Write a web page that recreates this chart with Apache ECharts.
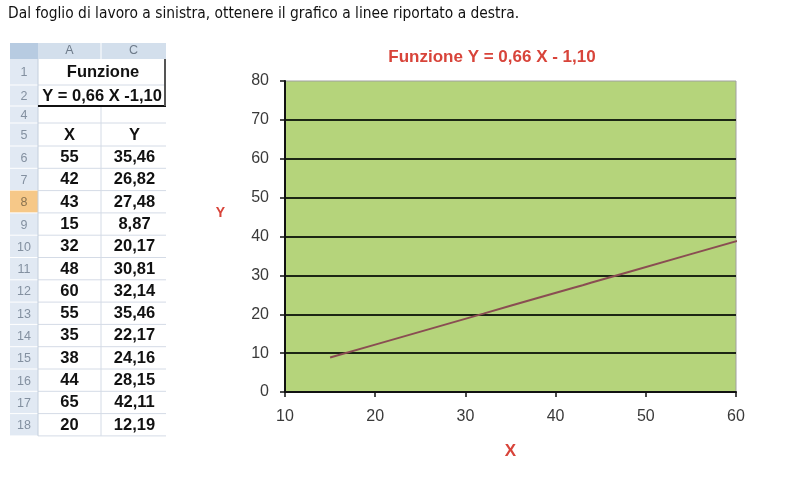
<!DOCTYPE html>
<html>
<head>
<meta charset="utf-8">
<script src="https://cdn.jsdelivr.net/npm/echarts@6/dist/echarts.min.js"></script>
<style>
html,body{margin:0;padding:0;background:#fff;}
#chart{width:786px;height:477px;}
</style>
</head>
<body>
<div id="chart"></div>
<script>
// ---- Data ----
const pageTitle = 'Dal foglio di lavoro a sinistra, ottenere il grafico a linee riportato a destra.';
const chartTitle = 'Funzione Y = 0,66 X - 1,10';
const sheetTitle1 = 'Funzione';
const sheetTitle2 = 'Y = 0,66 X -1,10';
const sheetRowNums = ['6','7','8','9','10','11','12','13','14','15','16','17','18'];
const sheetX = ['55','42','43','15','32','48','60','55','35','38','44','65','20'];
const sheetY = ['35,46','26,82','27,48','8,87','20,17','30,81','32,14','35,46','22,17','24,16','28,15','42,11','12,19'];
// points of the plotted line
const lineX = [15, 20, 32, 35, 38, 42, 43, 44, 48, 55, 65];
const lineY = [8.87, 12.19, 20.17, 22.17, 24.16, 26.82, 27.48, 28.15, 30.81, 35.46, 42.11];
const xTicks = [10, 20, 30, 40, 50, 60];
const yTicks = [0, 10, 20, 30, 40, 50, 60, 70, 80];

// ---- Sheet graphic ----
const g = [];
const L = 10, RH = 38, CA = 101, R = 166;
const fontB = 'bold 16.5px "Liberation Sans", Arial, sans-serif';
const fontRow = '12.5px "Liberation Sans", Arial, sans-serif';
function rect(x, y, w, h, fill, stroke, lw) {
  g.push({type:'rect', shape:{x, y, width:w, height:h}, style:{fill, stroke: stroke || null, lineWidth: lw || 0}, silent:true});
}
function line(x1, y1, x2, y2, stroke, lw) {
  g.push({type:'line', shape:{x1, y1, x2, y2}, style:{stroke, lineWidth: lw}, silent:true});
}
function text(x, y, t, font, fill, align) {
  g.push({type:'text', x, y, style:{text:t, font, fill, align: align || 'center', verticalAlign:'middle'}, silent:true});
}
// page title
text(8, 14, pageTitle, '15.4px "DejaVu Sans Condensed", "DejaVu Sans", sans-serif', '#111', 'left');

// rows: [label, top, height]
const rows = [['1',59,26],['2',85,21],['4',106,17],['5',123,23]];
sheetRowNums.forEach((n, i) => rows.push([n, 146 + i * 22.3, 22.3]));
// header
rect(L, 43, R - L, 16, '#d3dfec');
rect(L, 43, RH - L, 16, '#b7cbe1');
text((RH + CA) / 2, 51, 'A', '12.5px "Liberation Sans", Arial, sans-serif', '#6e7b8a');
text((CA + R) / 2, 51, 'C', '12.5px "Liberation Sans", Arial, sans-serif', '#6e7b8a');
line(CA, 43, CA, 59, '#ffffff', 1);
// body
const bottom = 146 + 13 * 22.3;
rect(RH, 59, R - RH, bottom - 59, '#ffffff');
rect(L, 59, RH - L, bottom - 59, '#e1e9f3');
rows.forEach((r, i) => {
  const [lab, top, h] = r;
  if (lab === '8') rect(L, top, RH - L, h, '#f6c888');
  text((L + RH) / 2, top + h / 2 + 1, lab, fontRow, lab === '8' ? '#8a7350' : '#8390a0');
  line(L, top + h, RH, top + h, '#ffffff', 1);
  line(RH, top + h, R, top + h, '#d4dbe6', 1);
});
line(CA, 106, CA, bottom, '#d4dbe6', 1);
line(RH, 59, RH, bottom, '#c4cfdc', 1);
// merged title cells
text((RH + R) / 2 + 1, 72, sheetTitle1, fontB, '#111');
text((RH + R) / 2, 96, sheetTitle2, fontB, '#111');
line(RH, 106, R, 106, '#111', 2);
line(R - 1, 59, R - 1, 106, '#555', 2);
// X / Y header
text((RH + CA) / 2, 135, 'X', fontB, '#111');
text((CA + R) / 2 + 1, 135, 'Y', fontB, '#111');
sheetRowNums.forEach((n, i) => {
  const cy = 146 + i * 22.3 + 11.5;
  text((RH + CA) / 2, cy, sheetX[i], fontB, '#111');
  text((CA + R) / 2 + 1, cy, sheetY[i], fontB, '#111');
});

// ---- Chart ----
const chart = echarts.init(document.getElementById('chart'));
chart.setOption({
  animation: false,
  title: {
    text: chartTitle, left: 487, top: 44, textAlign: 'center',
    textStyle: {color: '#d8443a', fontSize: 17, fontWeight: 'bold', fontFamily: '"Liberation Sans Narrow", "Liberation Sans", Arial, sans-serif'}
  },
  grid: {
    left: 285, top: 81, right: 50, bottom: 85,
    show: true, backgroundColor: '#b5d47b', borderColor: '#a0a0a0', borderWidth: 1
  },
  xAxis: {
    type: 'value', min: xTicks[0], max: xTicks[xTicks.length - 1], interval: 10,
    name: 'X', nameLocation: 'middle', nameGap: 51,
    nameTextStyle: {color: '#d8443a', fontSize: 17, fontWeight: 'bold', fontFamily: 'Liberation Sans, Arial'},
    axisLine: {show: true, lineStyle: {color: '#111', width: 2}},
    axisTick: {show: true, length: 5, lineStyle: {color: '#111', width: 1.5}},
    axisLabel: {color: '#3a3a3a', fontSize: 16, margin: 17, fontFamily: 'Liberation Sans, Arial'},
    splitLine: {show: false}
  },
  yAxis: {
    type: 'value', min: yTicks[0], max: yTicks[yTicks.length - 1], interval: 10,
    name: 'Y', nameLocation: 'middle', nameGap: 60, nameRotate: 0,
    nameTextStyle: {color: '#d8443a', fontSize: 14, fontWeight: 'bold', fontFamily: 'Liberation Sans, Arial', verticalAlign: 'bottom', lineHeight: 46},
    axisLine: {show: true, lineStyle: {color: '#111', width: 2}},
    axisTick: {show: true, length: 5, lineStyle: {color: '#111', width: 1.5}},
    axisLabel: {color: '#3a3a3a', fontSize: 16, margin: 16, fontFamily: 'Liberation Sans, Arial'},
    splitLine: {show: true, showMaxLine: false, showMinLine: false, lineStyle: {color: '#1c2614', width: 2}}
  },
  series: [{
    type: 'line', data: lineX.map((x, i) => [x, lineY[i]]),
    showSymbol: false, symbol: 'none', clip: true,
    lineStyle: {color: '#8a4d52', width: 2}
  }],
  graphic: g
});
</script>
</body>
</html>
